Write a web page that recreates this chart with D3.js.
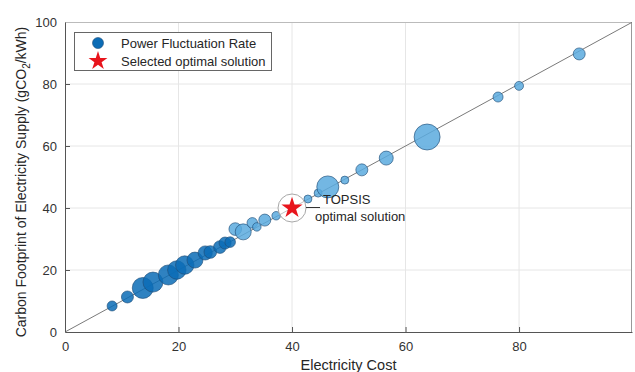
<!DOCTYPE html>
<html><head><meta charset="utf-8">
<script src="https://cdn.jsdelivr.net/npm/d3@7"></script>
<style>
body{margin:0;background:#fff;}
svg{font-family:"Liberation Sans",Arial,Helvetica,sans-serif;}
</style></head>
<body><svg id="c" width="635" height="372"></svg>
<script>
// Data
const electricityCost = [8.3, 11.0, 13.7, 15.5, 18.2, 19.7, 21.1, 22.9, 24.7, 25.6, 27.3, 28.2, 29.1, 30.0, 31.4, 33.0, 33.8, 35.2, 37.2, 42.8, 44.6, 46.3, 49.3, 52.3, 56.6, 63.8, 76.3, 80.0, 90.6];
const carbonFootprint = [8.4, 11.3, 14.2, 16.1, 18.4, 20.0, 21.6, 23.2, 25.5, 25.8, 27.4, 28.7, 29.0, 33.2, 32.3, 35.2, 33.9, 36.1, 37.5, 42.9, 44.8, 46.8, 49.0, 52.3, 56.1, 62.9, 75.8, 79.4, 89.7];
const fluctuationRate = [25, 36, 110, 100, 100, 85, 85, 64, 50, 40, 40, 36, 28, 40, 64, 28, 18, 36, 18, 16, 16, 121, 16, 36, 49, 169, 25, 20, 36];
const optimal = {cost: 40, carbon: 40};
const xTicks = [0, 20, 40, 60, 80];
const yTicks = [0, 20, 40, 60, 80, 100];
const legendLabels = ["Power Fluctuation Rate", "Selected optimal solution"];
const annotation = ["TOPSIS", "optimal solution"];

const svg = d3.select("#c");
const L = 65, R = 632, T = 22, B = 332;
const x = d3.scaleLinear().domain([0, 99.9]).range([L, R]);
const y = d3.scaleLinear().domain([0, 100]).range([B, T]);
const r = d3.scaleSqrt().domain([0, 169]).range([0, 13]);
const fillFor = d3.scaleThreshold().domain([29.5]).range(["#0b6cb6", "#5aaade"]);

// grid
svg.append("g").selectAll("line").data(xTicks.slice(1)).join("line")
  .attr("x1", d => x(d)).attr("x2", d => x(d)).attr("y1", T).attr("y2", B)
  .attr("stroke", "#e6e6e6").attr("stroke-width", 1);
svg.append("g").selectAll("line").data(yTicks.slice(1, -1)).join("line")
  .attr("y1", d => y(d)).attr("y2", d => y(d)).attr("x1", L).attr("x2", R)
  .attr("stroke", "#e6e6e6").attr("stroke-width", 1);

// box top/right
svg.append("line").attr("x1", L).attr("x2", R).attr("y1", T + 0.5).attr("y2", T + 0.5).attr("stroke", "#bbb");
svg.append("line").attr("x1", R - 0.5).attr("x2", R - 0.5).attr("y1", T).attr("y2", B).attr("stroke", "#999");

// diagonal
svg.append("line").attr("x1", x(0)).attr("y1", y(0)).attr("x2", x(99.9)).attr("y2", y(99.9))
  .attr("stroke", "#7a7a7a").attr("stroke-width", 1);

// bubbles
const pts = electricityCost.map((c, i) => ({c, e: carbonFootprint[i], s: fluctuationRate[i]}));
svg.append("g").selectAll("circle").data(pts).join("circle")
  .attr("cx", d => x(d.c)).attr("cy", d => y(d.e)).attr("r", d => r(d.s))
  .attr("fill", d => fillFor(d.c)).attr("fill-opacity", 0.85)
  .attr("stroke", "#1f4d78").attr("stroke-opacity", 0.8).attr("stroke-width", 0.8);

// highlight circle and star
const sx = x(optimal.cost), sy = y(optimal.carbon);
svg.append("circle").attr("cx", sx).attr("cy", sy).attr("r", 14)
  .attr("fill", "#fff").attr("fill-opacity", 0.55).attr("stroke", "#a8a8a8").attr("stroke-width", 1);
const star = d3.symbol().type(d3.symbolStar).size(140);
svg.append("path").attr("d", star()).attr("transform", `translate(${sx},${sy})`).attr("fill", "#e8141c");
svg.append("line").attr("x1", sx + 14).attr("x2", sx + 28).attr("y1", sy - 0.5).attr("y2", sy - 0.5)
  .attr("stroke", "#333").attr("stroke-width", 1);
svg.append("text").attr("x", sx + 31).attr("y", sy - 4).attr("font-size", 13).attr("fill", "#262626").text(annotation[0]);
svg.append("text").attr("x", sx + 23).attr("y", sy + 13).attr("font-size", 13).attr("fill", "#262626").text(annotation[1]);

// axes
const xa = svg.append("g").attr("transform", `translate(0,${B})`)
  .call(d3.axisBottom(x).tickValues(xTicks).tickSizeInner(-5).tickSizeOuter(0).tickPadding(10));
const ya = svg.append("g").attr("transform", `translate(${L},0)`)
  .call(d3.axisLeft(y).tickValues(yTicks).tickSizeInner(-5).tickSizeOuter(0).tickPadding(8));
[xa, ya].forEach(g => {
  g.select(".domain").attr("stroke", "#555");
  g.selectAll(".tick line").attr("stroke", "#555");
  g.selectAll(".tick text").attr("font-size", 13).attr("fill", "#333").attr("font-family", "Liberation Sans, Arial, sans-serif");
});
ya.selectAll(".tick").filter(d => d === 0 || d === 100).select("line").remove();
xa.selectAll(".tick").filter(d => d === 0).select("line").remove();

// axis labels
svg.append("text").attr("x", (L + R) / 2).attr("y", 370).attr("text-anchor", "middle")
  .attr("font-size", 14.5).attr("fill", "#262626").text("Electricity Cost");
const yl = svg.append("text").attr("transform", `translate(26,${(T + B) / 2 + 5}) rotate(-90)`)
  .attr("text-anchor", "middle").attr("font-size", 14).attr("fill", "#262626");
yl.append("tspan").text("Carbon Footprint of Electricity Supply (gCO");
yl.append("tspan").attr("font-size", 10).attr("dy", 4).text("2");
yl.append("tspan").attr("dy", -4).text("/kWh)");

// legend
const lg = svg.append("g");
lg.append("rect").attr("x", 74.5).attr("y", 32.5).attr("width", 197).attr("height", 38)
  .attr("fill", "#fff").attr("stroke", "#666").attr("stroke-width", 1);
lg.append("circle").attr("cx", 98).attr("cy", 43).attr("r", 5.5).attr("fill", "#0b6cb6").attr("stroke", "#1f4d78").attr("stroke-width", 0.6);
lg.append("path").attr("d", d3.symbol().type(d3.symbolStar).size(110)()).attr("transform", "translate(98,61)").attr("fill", "#e8141c");
lg.selectAll("text").data(legendLabels).join("text")
  .attr("x", 121).attr("y", (d, i) => 47.5 + i * 18).attr("font-size", 13).attr("fill", "#262626").text(d => d);
</script></body></html>
